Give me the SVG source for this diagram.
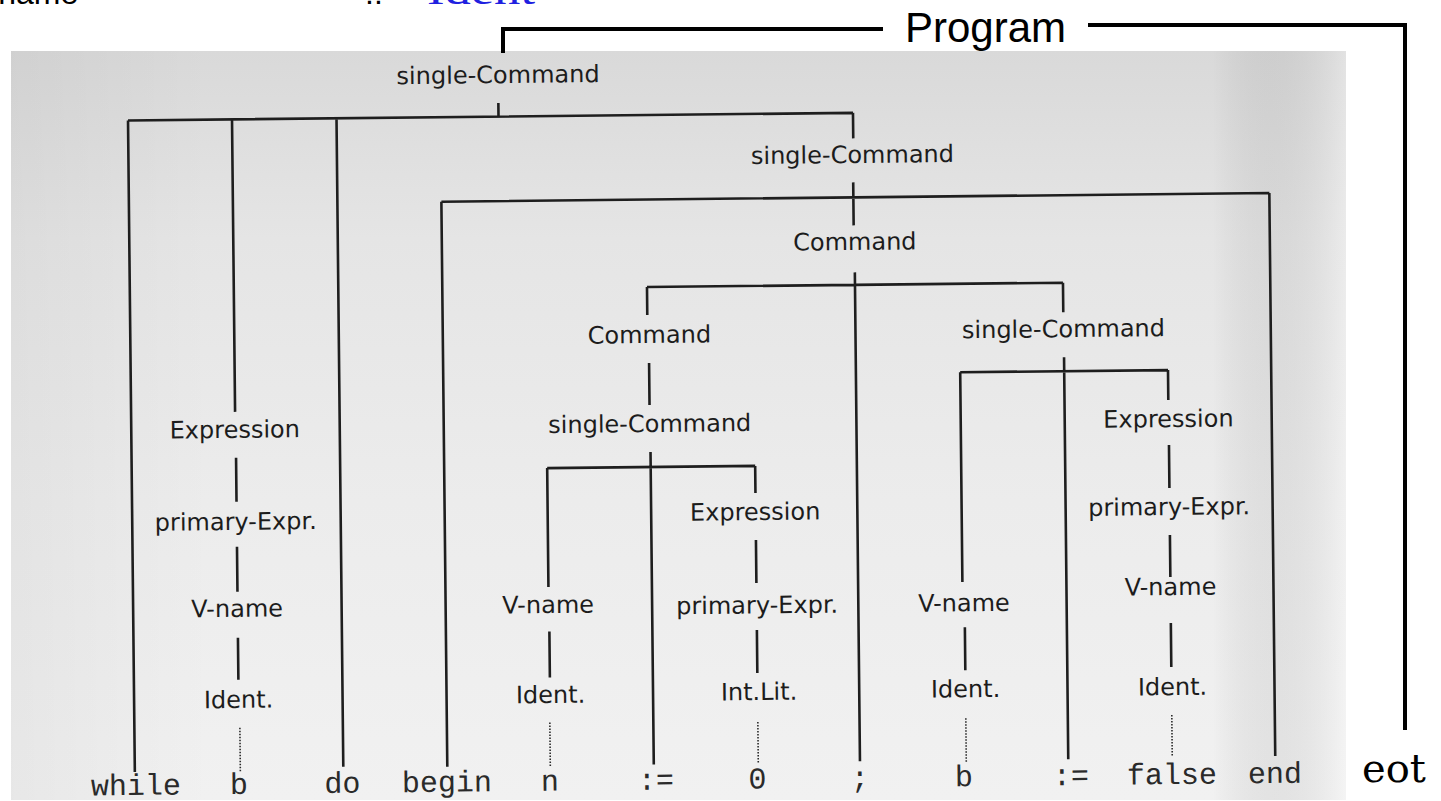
<svg xmlns="http://www.w3.org/2000/svg" width="1441" height="801" viewBox="0 0 1441 801">
<defs>
<linearGradient id="scan" x1="0" y1="0" x2="0" y2="1">
<stop offset="0" stop-color="#d9d9d9"/>
<stop offset="0.25" stop-color="#e5e5e5"/>
<stop offset="0.6" stop-color="#ececec"/>
<stop offset="1" stop-color="#f1f1f1"/>
</linearGradient>
<linearGradient id="scanL" x1="0" y1="0" x2="1" y2="0">
<stop offset="0" stop-color="#000" stop-opacity="0.04"/>
<stop offset="0.15" stop-color="#000" stop-opacity="0"/>
<stop offset="0.9" stop-color="#000" stop-opacity="0"/>
<stop offset="1" stop-color="#fff" stop-opacity="0.25"/>
</linearGradient>
</defs>
<style>
.lbl{font-family:"DejaVu Sans","Liberation Sans",sans-serif;font-size:24px;fill:#1c1c1c;text-anchor:middle}
.term{font-family:"Liberation Mono","DejaVu Sans Mono",monospace;font-size:30px;fill:#2a2a2a;text-anchor:middle}
.ln{fill:none;stroke:#1e1e1e;stroke-width:2.6}
.dot{fill:none;stroke:#2a2a2a;stroke-width:1.6;stroke-dasharray:1.5 1.5}
.ov{fill:none;stroke:#000;stroke-width:4}
</style>
<rect x="0" y="0" width="1441" height="801" fill="#ffffff"/>
<text x="-32" y="4" font-family="Liberation Sans, sans-serif" font-size="32" fill="#000">V-name</text>
<text x="365" y="4" font-family="Liberation Sans, sans-serif" font-size="32" fill="#000">::=</text>
<text x="427" y="4" font-family="Liberation Serif, serif" font-size="40" fill="#2020e0" textLength="108" lengthAdjust="spacingAndGlyphs">Ident</text>
<rect x="11" y="51" width="1335" height="749" fill="url(#scan)"/>
<rect x="11" y="51" width="1335" height="749" fill="url(#scanL)"/>
<g id="program-overlay">
<path class="ov" d="M503 53 V29 H883"/>
<path class="ov" d="M1088 25 H1405 V730"/>
<text x="905" y="42" font-family="Liberation Sans, sans-serif" font-size="42" fill="#000">Program</text>
<text x="1362" y="782" font-family="'DejaVu Serif', serif" font-size="40" fill="#000">eot</text>
</g>
<g id="tree" transform="rotate(-0.6 700 450)">
<g id="connectors">
<path class="ln" d="M502 101 V114.5 M131.5 114.5 H856.5 M131.5 114.5 V766 M235.5 114.5 V407 M340 114.5 V763 M856.5 114.5 V140"/>
<path class="ln" d="M856 184 V227 M444 199 H1272 M444 199 V764 M1272 199 V762"/>
<path class="ln" d="M856.7 274 V763 M648.7 286.5 H1064.7 M648.7 286.5 V314.5 M1064.7 286.5 V316"/>
<path class="ln" d="M650 362.5 V404.5 M650.5 451.5 V764 M547 466.5 H755 M547 466.5 V585.5 M547.5 630 V676 M755 466.5 V493.6 M755 540.6 V583.6 M755 630.6 V673.6"/>
<path class="ln" d="M1065 361 V763 M961 375 H1168.8 M961 375 V584.8 M963 630 V673 M1168.8 375 V405 M1169 450 V493 M1169 540 V582 M1169 628 V672"/>
<path class="ln" d="M236 453 V497 M236 542 V587 M236 633 V675"/>
<path class="dot" d="M237 723 V767 M547 721 V766 M755 722.6 V763.6 M963 721 V765 M1169 720 V762"/>
</g>
<g id="n-sc1"><text class="lbl" x="502" y="81">single-Command</text></g>
<g id="n-sc2"><text class="lbl" x="855.5" y="164.6">single-Command</text></g>
<g id="n-cmd1"><text class="lbl" x="857" y="251.6">Command</text></g>
<g id="n-cmd2"><text class="lbl" x="650.6" y="342.5">Command</text></g>
<g id="n-sc3"><text class="lbl" x="1064.7" y="341">single-Command</text></g>
<g id="n-sc4"><text class="lbl" x="650" y="431.5">single-Command</text></g>
<g id="n-expr1"><text class="lbl" x="235" y="433">Expression</text></g>
<g id="n-pe1"><text class="lbl" x="235" y="525">primary-Expr.</text></g>
<g id="n-vn1"><text class="lbl" x="235.5" y="612">V-name</text></g>
<g id="n-id1"><text class="lbl" x="236" y="703">Ident.</text></g>
<g id="n-vn2"><text class="lbl" x="546.5" y="611.4">V-name</text></g>
<g id="n-id2"><text class="lbl" x="548" y="701.4">Ident.</text></g>
<g id="n-expr2"><text class="lbl" x="754.5" y="520.6">Expression</text></g>
<g id="n-pe2"><text class="lbl" x="755.5" y="614">primary-Expr.</text></g>
<g id="n-il"><text class="lbl" x="756.5" y="700.6">Int.Lit.</text></g>
<g id="n-vn3"><text class="lbl" x="962.3" y="614">V-name</text></g>
<g id="n-id3"><text class="lbl" x="963" y="700">Ident.</text></g>
<g id="n-expr3"><text class="lbl" x="1168.7" y="432">Expression</text></g>
<g id="n-pe3"><text class="lbl" x="1168.5" y="520">primary-Expr.</text></g>
<g id="n-vn4"><text class="lbl" x="1169" y="600">V-name</text></g>
<g id="n-id4"><text class="lbl" x="1170" y="700">Ident.</text></g>
<g id="terminals">
<text class="term" x="132.5" y="789">while</text>
<text class="term" x="235.5" y="789">b</text>
<text class="term" x="339" y="789">do</text>
<text class="term" x="443.5" y="789">begin</text>
<text class="term" x="546.5" y="789">n</text>
<text class="term" x="652.5" y="789">:=</text>
<text class="term" x="754" y="789">0</text>
<text class="term" x="856.5" y="789">;</text>
<text class="term" x="960.5" y="789">b</text>
<text class="term" x="1067.5" y="789">:=</text>
<text class="term" x="1168.5" y="789">false</text>
<text class="term" x="1271.5" y="789">end</text>
</g>
</g>
</svg>
